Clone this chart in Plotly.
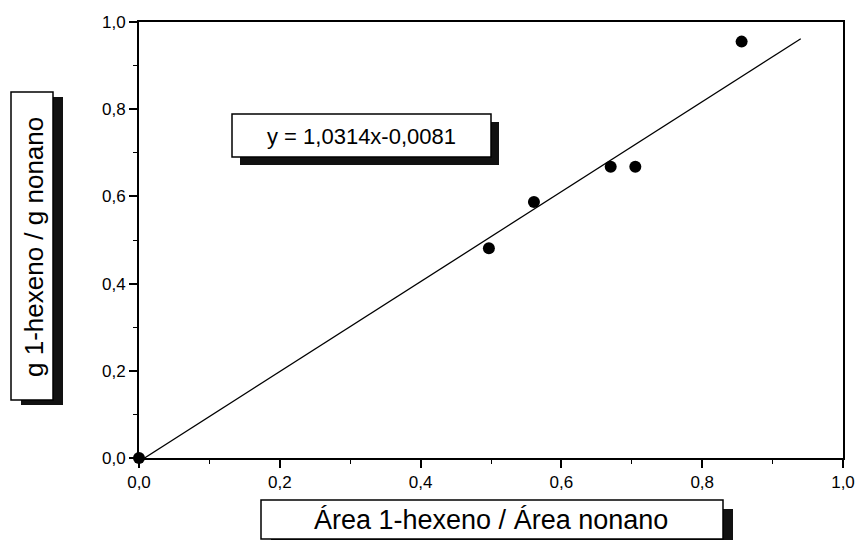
import plotly.graph_objects as go

# Calibration points: area ratio (x) vs mass ratio (y)
area_ratio = [0.0, 0.497, 0.561, 0.670, 0.705, 0.856]
mass_ratio = [0.0, 0.481, 0.587, 0.668, 0.668, 0.955]

# Linear fit stated on the chart
slope = 1.0314
intercept = -0.0081
fit_x_end = 0.94

tick_vals = [0.0, 0.2, 0.4, 0.6, 0.8, 1.0]
tick_text = ["0,0", "0,2", "0,4", "0,6", "0,8", "1,0"]
minor_vals = [0.1, 0.3, 0.5, 0.7, 0.9]

eq_label = "y = 1,0314x-0,0081"
x_title = "Área 1-hexeno / Área nonano"
y_title = "g 1-hexeno / g nonano"

W, H = 857, 540
L, R, T, B = 139, 14, 22, 82
PW, PH = W - L - R, H - T - B


def px(x):
    return (x - L) / PW


def py(y):
    return (H - B - y) / PH


fit_x = [-intercept / slope, fit_x_end]
fit_y = [slope * v + intercept for v in fit_x]

fig = go.Figure()
fig.add_trace(go.Scatter(
    x=fit_x, y=fit_y, mode="lines",
    line=dict(color="black", width=1.3), showlegend=False,
))
fig.add_trace(go.Scatter(
    x=area_ratio, y=mass_ratio, mode="markers",
    marker=dict(color="black", size=12, symbol="circle"),
    cliponaxis=False, showlegend=False,
))

font = "Liberation Sans, Arial, sans-serif"
axis_common = dict(
    range=[0, 1], tickmode="array", tickvals=tick_vals, ticktext=tick_text,
    showline=True, linewidth=2, linecolor="black", mirror=True,
    ticks="outside", ticklen=8, tickwidth=1.5, tickcolor="black",
    minor=dict(tickmode="array", tickvals=minor_vals, ticks="outside",
               ticklen=4, tickwidth=1.2, tickcolor="black"),
    showgrid=False, zeroline=False, automargin=False,
    tickfont=dict(family=font, size=17, color="black"),
)
fig.update_xaxes(**axis_common)
fig.update_yaxes(**axis_common)


def shadow_box(x0, y0, x1, y1, dx, dy):
    # dark drop shadow first, then the white framed box on top
    fig.add_shape(type="rect", xref="paper", yref="paper",
                  x0=px(x0 + dx), x1=px(x1 + dx), y0=py(y0 + dy), y1=py(y1 + dy),
                  fillcolor="#111111", line=dict(width=0), layer="above")
    fig.add_shape(type="rect", xref="paper", yref="paper",
                  x0=px(x0), x1=px(x1), y0=py(y0), y1=py(y1),
                  fillcolor="white", line=dict(color="black", width=1.5),
                  layer="above")


shadow_box(232, 114, 491, 157, 8, 8)
shadow_box(261, 500, 723, 539, 10, 9)
shadow_box(11, 92, 53, 400, 10, 5)


def label(x, y, text, size, angle=0):
    fig.add_annotation(xref="paper", yref="paper", x=px(x), y=py(y),
                       xanchor="center", yanchor="middle",
                       text=text, showarrow=False, textangle=angle,
                       font=dict(family=font, size=size, color="black"))


label(361.5, 136, eq_label, 22)
label(491, 520, x_title, 27)
label(34, 247, y_title, 26, -90)

fig.update_layout(
    width=W, height=H,
    margin=dict(l=L, r=R, t=T, b=B, autoexpand=False),
    paper_bgcolor="white", plot_bgcolor="white",
    showlegend=False,
)

fig.write_html("out.html")
